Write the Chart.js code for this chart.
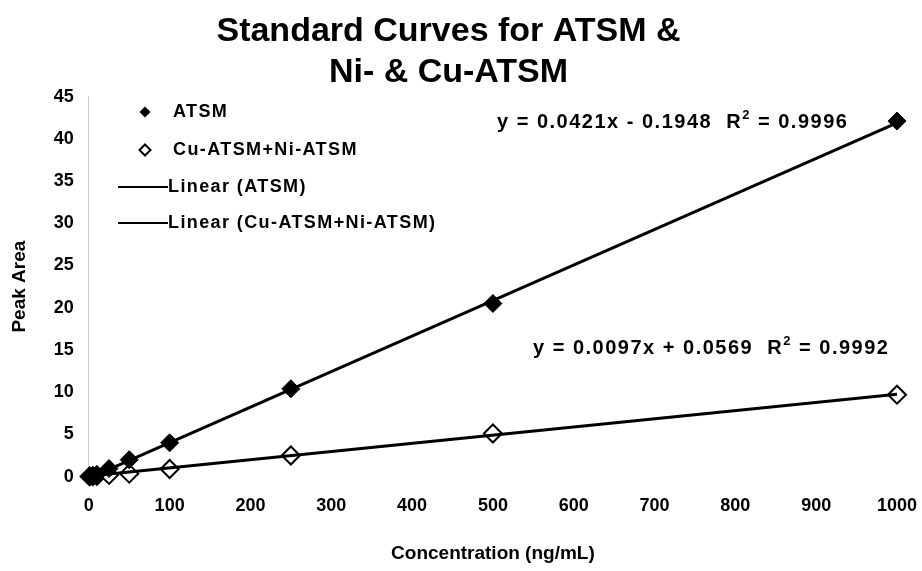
<!DOCTYPE html>
<html>
<head>
<meta charset="utf-8">
<script src="https://cdn.jsdelivr.net/npm/chart.js@4/dist/chart.umd.min.js"></script>
<style>
  html, body { margin: 0; padding: 0; background: #fff; }
  #wrap { width: 922px; height: 571px; }
</style>
</head>
<body>
<div id="wrap"><canvas id="chart"></canvas></div>
<script>
// Standard curves chart data
const concentrations = [1, 5, 10, 25, 50, 100, 250, 500, 1000];
const atsmArea = [0.0, 0.1, 0.25, 0.95, 2.0, 4.0, 10.4, 20.5, 42.1];
const cuNiArea = [0.02, 0.05, 0.1, 0.2, 0.35, 0.9, 2.5, 5.1, 9.7];

// trendline end points (read from the fitted equations)
const trendX = [1, 1000];
const atsmTrend = [-0.15, 41.9];
const cuNiTrend = [0.07, 9.76];

const xTicks = [0, 100, 200, 300, 400, 500, 600, 700, 800, 900, 1000];
const yTicks = [0, 5, 10, 15, 20, 25, 30, 35, 40, 45];

const atsmEquation = 'y = 0.0421x - 0.1948  R';
const atsmR2 = ' = 0.9996';
const cuNiEquation = 'y = 0.0097x + 0.0569  R';
const cuNiR2 = ' = 0.9992';

const FONT = '"Liberation Sans", Arial, sans-serif';

function toPoints(xs, ys) {
  return xs.map((x, i) => ({ x: x, y: ys[i] }));
}

// Draw legend and equation labels inside the plot
const annotations = {
  id: 'annotations',
  afterDatasetsDraw(chart) {
    const ctx = chart.ctx;
    ctx.save();
    ctx.fillStyle = '#000';
    ctx.strokeStyle = '#000';
    ctx.textBaseline = 'middle';
    ctx.font = 'bold 18px ' + FONT;
    ctx.letterSpacing = '1.4px';

    // legend
    const items = [
      { label: 'ATSM', type: 'filled', y: 112 },
      { label: 'Cu-ATSM+Ni-ATSM', type: 'open', y: 150 },
      { label: 'Linear (ATSM)', type: 'line', y: 187 },
      { label: 'Linear (Cu-ATSM+Ni-ATSM)', type: 'line', y: 223 }
    ];
    items.forEach(item => {
      if (item.type === 'line') {
        ctx.lineWidth = 2;
        ctx.beginPath();
        ctx.moveTo(118, item.y);
        ctx.lineTo(168, item.y);
        ctx.stroke();
        ctx.fillText(item.label, 168, item.y);
      } else {
        const cx = 145, r = 5.5;
        ctx.beginPath();
        ctx.moveTo(cx, item.y - r);
        ctx.lineTo(cx + r, item.y);
        ctx.lineTo(cx, item.y + r);
        ctx.lineTo(cx - r, item.y);
        ctx.closePath();
        if (item.type === 'filled') {
          ctx.fill();
        } else {
          ctx.lineWidth = 2;
          ctx.fillStyle = '#fff';
          ctx.fill();
          ctx.stroke();
          ctx.fillStyle = '#000';
        }
        ctx.fillText(item.label, 173, item.y);
      }
    });

    // equation labels
    function equation(text, r2, x, y) {
      ctx.letterSpacing = '1.5px';
      ctx.font = 'bold 20px ' + FONT;
      ctx.fillText(text, x, y);
      let w = ctx.measureText(text).width;
      ctx.font = 'bold 13px ' + FONT;
      ctx.fillText('2', x + w, y - 7);
      w += ctx.measureText('2').width;
      ctx.font = 'bold 20px ' + FONT;
      ctx.fillText(r2, x + w, y);
    }
    equation(atsmEquation, atsmR2, 497, 122);
    equation(cuNiEquation, cuNiR2, 533, 348);
    ctx.restore();
  }
};

const ctx = document.getElementById('chart').getContext('2d');
new Chart(ctx, {
  type: 'scatter',
  data: {
    datasets: [
      {
        label: 'Linear (ATSM)',
        type: 'line',
        data: toPoints(trendX, atsmTrend),
        borderColor: '#000',
        borderWidth: 3,
        pointRadius: 0,
        fill: false
      },
      {
        label: 'Linear (Cu-ATSM+Ni-ATSM)',
        type: 'line',
        data: toPoints(trendX, cuNiTrend),
        borderColor: '#000',
        borderWidth: 3,
        pointRadius: 0,
        fill: false
      },
      {
        label: 'ATSM',
        data: toPoints(concentrations, atsmArea),
        pointStyle: 'rectRot',
        pointRadius: 9,
        backgroundColor: '#000',
        borderColor: '#000',
        borderWidth: 1
      },
      {
        label: 'Cu-ATSM+Ni-ATSM',
        data: toPoints(concentrations, cuNiArea),
        pointStyle: 'rectRot',
        pointRadius: 9,
        backgroundColor: '#fff',
        borderColor: '#000',
        borderWidth: 2
      }
    ]
  },
  options: {
    responsive: true,
    maintainAspectRatio: false,
    animation: false,
    clip: false,
    layout: {
      autoPadding: false,
      padding: { left: 0, right: 25, top: 4, bottom: 6 }
    },
    plugins: {
      legend: { display: false },
      tooltip: { enabled: false },
      title: {
        display: true,
        text: ['Standard Curves for ATSM &', 'Ni- & Cu-ATSM'],
        color: '#000',
        font: { family: FONT, size: 34, weight: 'bold', lineHeight: 1.2 },
        padding: { top: 7, bottom: 4 }
      }
    },
    scales: {
      x: {
        type: 'linear',
        min: 0,
        max: 1000,
        afterBuildTicks: axis => { axis.ticks = xTicks.map(v => ({ value: v })); },
        grid: { display: false, drawTicks: false },
        border: { display: false },
        ticks: {
          color: '#000',
          font: { family: FONT, size: 18, weight: 'bold', lineHeight: 1.1 },
          padding: 0,
          maxRotation: 0,
          // blank first line pushes the label down without widening the side padding
          callback: v => ['', String(v)]
        },
        title: {
          display: true,
          text: 'Concentration (ng/mL)',
          color: '#000',
          font: { family: FONT, size: 19, weight: 'bold' },
          padding: { top: 26, bottom: 0 }
        }
      },
      y: {
        type: 'linear',
        min: 0,
        max: 45,
        afterBuildTicks: axis => { axis.ticks = yTicks.map(v => ({ value: v })); },
        grid: { display: false, drawTicks: false },
        border: { display: true, color: '#ccc', dash: [1, 20] },
        ticks: {
          color: '#000',
          font: { family: FONT, size: 18, weight: 'bold' },
          padding: 15,
          callback: v => String(v)
        },
        title: {
          display: true,
          text: 'Peak Area',
          color: '#000',
          font: { family: FONT, size: 19, weight: 'bold' },
          padding: { top: 8, bottom: 8 }
        }
      }
    }
  },
  plugins: [annotations]
});
</script>
</body>
</html>
